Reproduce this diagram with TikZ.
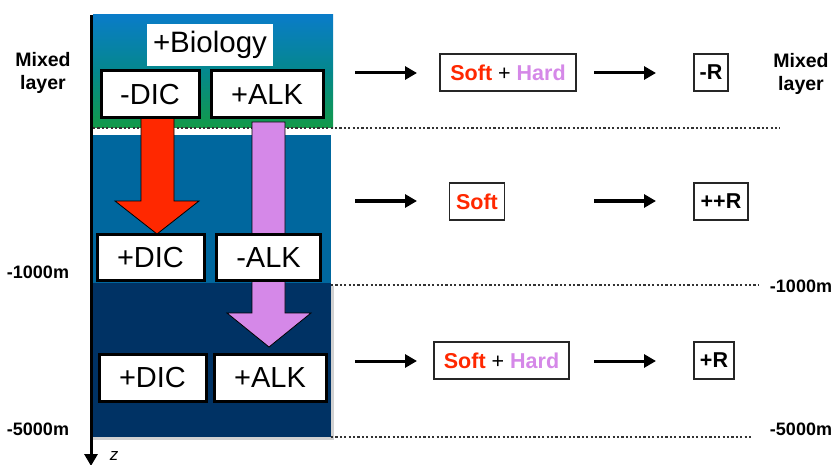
\documentclass[tikz,border=0pt]{standalone}
\usepackage{fontspec}
\setmainfont{Liberation Sans}
\usetikzlibrary{arrows.meta}
\definecolor{softred}{RGB}{255,40,0}
\definecolor{hardvio}{RGB}{213,136,232}
\definecolor{topblue}{RGB}{10,124,200}
\definecolor{topmid}{RGB}{4,136,140}
\definecolor{topgreen}{RGB}{18,154,72}
\definecolor{midblue}{RGB}{0,103,158}
\definecolor{deepblue}{RGB}{0,50,100}
\begin{document}
\begin{tikzpicture}[x=1pt,y=-1pt,
  bigbox/.style={draw=black,line width=3pt,fill=white,inner sep=0pt,font=\fontsize{29}{32}\selectfont},
  resbox/.style={draw=black!85,line width=1.2pt,fill=white,inner sep=0pt,font=\fontsize{21.5}{24}\selectfont\bfseries},
  lbl/.style={font=\fontsize{18}{21}\selectfont\bfseries,align=center},
  dotline/.style={line width=1.1pt,dash pattern=on 2.2pt off 2.2pt,black!80},
  flow/.style={line width=3pt,-{Triangle[length=12pt,width=13pt]}}]
\useasboundingbox (0,0) rectangle (840,465);
% layers
\shade[top color=topblue,bottom color=topgreen,middle color=topmid] (93,15) rectangle (333,128);
\fill[midblue] (93,135) rectangle (331,283);
\fill[black!18] (93,286) rectangle (334,440);
\fill[deepblue] (90,283) rectangle (331,437);
% dotted lines
\draw[dotline] (93,128) -- (780,128);
\draw[dotline] (331,285) -- (758,285);
\draw[dotline] (331,437) -- (752,437);
% block arrows
\draw[fill=softred,line width=0.8pt] (141,118) -- (174,118) -- (174,201) -- (199,201) -- (157,234) -- (115,201) -- (141,201) -- cycle;
\draw[fill=hardvio,line width=0.8pt] (252,122) -- (285,122) -- (285,313) -- (311,313) -- (269,347) -- (227,313) -- (252,313) -- cycle;
% axis
\coordinate (axtop) at (91,15);
\coordinate (axbot) at (91,466);
\draw[line width=3pt,-{Triangle[length=12pt,width=13pt]}] (axtop) -- (axbot);
\node[font=\fontsize{17}{19}\selectfont\itshape,inner sep=0pt] (zlab) at (114,456) {z};
% boxes
\node[fill=white,inner sep=0pt,minimum width=126pt,minimum height=42pt,font=\fontsize{29.5}{32}\selectfont] (bio) at (210,45) {+Biology};
\node[bigbox,minimum width=98pt,minimum height=47pt] (dic1) at (150,94.5) {-DIC};
\node[bigbox,minimum width=112pt,minimum height=47pt] (alk1) at (267,94.5) {+ALK};
\node[bigbox,minimum width=107pt,minimum height=46pt] (dic2) at (150.5,257.5) {+DIC};
\node[bigbox,minimum width=104pt,minimum height=46pt] (alk2) at (268.5,257.5) {-ALK};
\node[bigbox,minimum width=107pt,minimum height=47pt] (dic3) at (152.5,377.5) {+DIC};
\node[bigbox,minimum width=112pt,minimum height=47pt] (alk3) at (270,377.5) {+ALK};
% labels
\node[lbl,font=\fontsize{19.5}{23}\selectfont\bfseries] (ml) at (43,73) {Mixed\\layer};
\node[lbl,font=\fontsize{19.5}{23}\selectfont\bfseries] (mr) at (801,74) {Mixed\\layer};
\node[lbl] (l1) at (38,272) {-1000m};
\node[lbl] (r1) at (801,286) {-1000m};
\node[lbl] (l5) at (38,429) {-5000m};
\node[lbl] (r5) at (801,429) {-5000m};
% result boxes
\node[resbox,minimum width=136pt,minimum height=37pt] (sh1) at (508,72.5) {\textcolor{softred}{Soft} \mdseries+ \bfseries\textcolor{hardvio}{Hard}};
\node[resbox,minimum width=34pt,minimum height=37pt] (r1b) at (711,72.5) {-R};
\node[resbox,minimum width=55pt,minimum height=37pt] (s2) at (477,201.5) {\textcolor{softred}{Soft}};
\node[resbox,minimum width=54pt,minimum height=37pt] (r2b) at (721,201.5) {++R};
\node[resbox,minimum width=135pt,minimum height=37pt] (sh3) at (501.5,360.5) {\textcolor{softred}{Soft} \mdseries+ \bfseries\textcolor{hardvio}{Hard}};
\node[resbox,minimum width=40pt,minimum height=37pt] (r3b) at (714,360.5) {+R};
% flow arrows
\coordinate (a1s) at (355,73); \coordinate (a1e) at (417,73);
\coordinate (b1s) at (594,73); \coordinate (b1e) at (656,73);
\coordinate (a2s) at (355,201); \coordinate (a2e) at (417,201);
\coordinate (b2s) at (594,201); \coordinate (b2e) at (656,201);
\coordinate (a3s) at (355,361); \coordinate (a3e) at (417,361);
\coordinate (b3s) at (594,361); \coordinate (b3e) at (656,361);
\draw[flow] (a1s) -- (a1e);
\draw[flow] (b1s) -- (b1e);
\draw[flow] (a2s) -- (a2e);
\draw[flow] (b2s) -- (b2e);
\draw[flow] (a3s) -- (a3e);
\draw[flow] (b3s) -- (b3e);
\end{tikzpicture}
\end{document}
